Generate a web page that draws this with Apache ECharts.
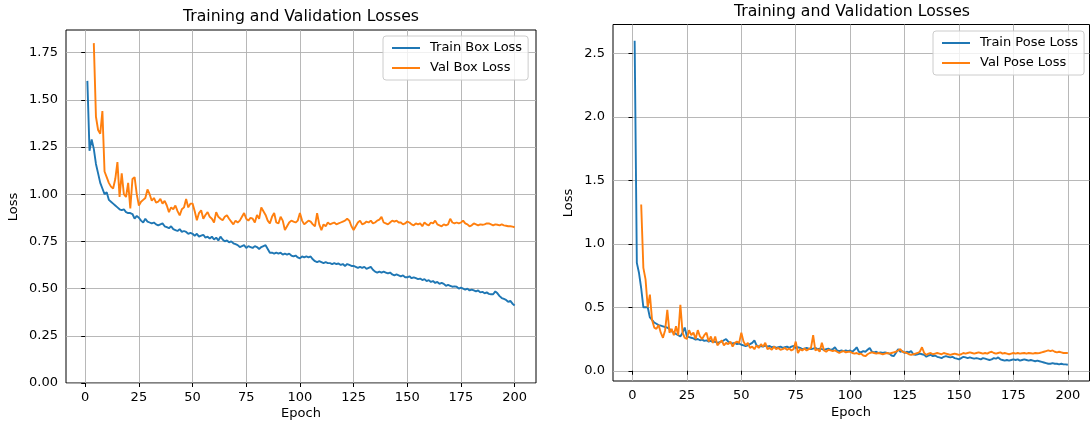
<!DOCTYPE html>
<html>
<head>
<meta charset="utf-8">
<script src="https://cdn.jsdelivr.net/npm/echarts@6/dist/echarts.min.js"></script>
<style>
  html, body { margin: 0; padding: 0; background: #ffffff; }
  #chart { width: 1090px; height: 425px; }
</style>
</head>
<body>
<div id="chart"></div>
<script>
// Per-epoch losses (epochs 1..200); validation starts at epoch 4.
const trainBoxLoss = [
  1.60,1.23,1.29,1.24,1.16,1.11,1.06,1.03,1.00,1.01,
  0.97,0.96,0.95,0.94,0.93,0.92,0.915,0.92,0.905,0.90,
  0.90,0.895,0.87,0.885,0.875,0.86,0.85,0.87,0.855,0.85,
  0.845,0.85,0.84,0.835,0.84,0.845,0.83,0.825,0.82,0.83,
  0.815,0.81,0.805,0.815,0.80,0.805,0.80,0.79,0.795,0.79,
  0.78,0.79,0.775,0.78,0.785,0.77,0.775,0.765,0.775,0.76,
  0.77,0.755,0.775,0.76,0.75,0.755,0.745,0.75,0.74,0.735,
  0.73,0.72,0.725,0.73,0.715,0.725,0.72,0.715,0.725,0.72,
  0.71,0.72,0.725,0.73,0.71,0.69,0.69,0.685,0.69,0.685,
  0.69,0.68,0.685,0.68,0.685,0.675,0.67,0.675,0.665,0.66,
  0.67,0.665,0.67,0.665,0.67,0.655,0.645,0.64,0.645,0.64,
  0.635,0.64,0.635,0.635,0.63,0.635,0.63,0.633,0.625,0.63,
  0.62,0.63,0.625,0.62,0.62,0.615,0.61,0.615,0.61,0.615,
  0.605,0.61,0.615,0.60,0.59,0.585,0.59,0.585,0.59,0.585,
  0.58,0.585,0.575,0.57,0.575,0.57,0.565,0.57,0.56,0.56,
  0.565,0.555,0.56,0.555,0.55,0.553,0.545,0.55,0.54,0.545,
  0.535,0.54,0.53,0.535,0.525,0.53,0.525,0.515,0.52,0.515,
  0.51,0.512,0.51,0.50,0.505,0.50,0.495,0.50,0.49,0.495,
  0.49,0.485,0.49,0.48,0.483,0.475,0.48,0.472,0.47,0.47,
  0.485,0.475,0.46,0.45,0.445,0.44,0.43,0.435,0.42,0.41
];
const valBoxLoss = [
  null,null,null,1.80,1.41,1.34,1.32,1.44,1.12,1.09,
  1.06,1.04,1.03,1.08,1.17,0.985,1.11,1.00,0.985,1.06,
  0.925,1.08,1.09,1.00,0.94,0.96,0.97,0.98,1.025,1.00,
  0.965,0.98,0.955,0.96,0.975,0.95,0.965,0.94,0.905,0.93,
  0.92,0.94,0.91,0.888,0.92,0.93,0.975,0.93,0.95,0.95,
  0.91,0.862,0.90,0.915,0.87,0.89,0.905,0.88,0.87,0.85,
  0.905,0.88,0.87,0.862,0.88,0.888,0.87,0.855,0.84,0.86,
  0.85,0.86,0.88,0.90,0.87,0.86,0.875,0.87,0.85,0.89,
  0.87,0.93,0.91,0.89,0.86,0.845,0.88,0.90,0.85,0.845,
  0.88,0.86,0.81,0.83,0.85,0.86,0.855,0.85,0.86,0.90,
  0.86,0.84,0.85,0.86,0.855,0.84,0.83,0.90,0.84,0.81,
  0.84,0.83,0.85,0.84,0.845,0.85,0.84,0.845,0.85,0.855,
  0.86,0.87,0.86,0.83,0.81,0.83,0.85,0.86,0.84,0.845,
  0.855,0.85,0.86,0.845,0.85,0.86,0.865,0.88,0.85,0.845,
  0.84,0.85,0.86,0.855,0.86,0.85,0.85,0.84,0.845,0.855,
  0.85,0.84,0.835,0.845,0.84,0.845,0.83,0.85,0.84,0.835,
  0.85,0.845,0.86,0.84,0.835,0.83,0.84,0.835,0.84,0.87,
  0.85,0.845,0.85,0.845,0.85,0.86,0.845,0.84,0.83,0.835,
  0.845,0.84,0.835,0.84,0.838,0.84,0.845,0.845,0.84,0.835,
  0.84,0.838,0.835,0.84,0.835,0.833,0.83,0.83,0.828,0.825
];
const trainPoseLoss = [
  2.60,0.85,0.77,0.65,0.50,0.50,0.50,0.42,0.40,0.38,
  0.37,0.36,0.355,0.35,0.345,0.34,0.33,0.31,0.30,0.29,
  0.28,0.27,0.30,0.34,0.27,0.265,0.26,0.255,0.245,0.25,
  0.24,0.245,0.235,0.24,0.23,0.235,0.225,0.23,0.22,0.225,
  0.23,0.24,0.25,0.23,0.22,0.215,0.22,0.21,0.215,0.205,
  0.20,0.195,0.20,0.21,0.22,0.24,0.20,0.19,0.195,0.19,
  0.20,0.19,0.195,0.185,0.19,0.18,0.185,0.19,0.18,0.185,
  0.19,0.18,0.19,0.195,0.18,0.185,0.18,0.17,0.175,0.18,
  0.175,0.17,0.175,0.18,0.17,0.175,0.17,0.165,0.17,0.175,
  0.165,0.17,0.185,0.16,0.155,0.16,0.155,0.16,0.155,0.16,
  0.15,0.165,0.185,0.15,0.145,0.155,0.15,0.165,0.18,0.15,
  0.145,0.15,0.14,0.145,0.14,0.145,0.14,0.135,0.12,0.115,
  0.14,0.17,0.15,0.155,0.14,0.15,0.145,0.155,0.13,0.125,
  0.13,0.135,0.13,0.125,0.11,0.12,0.125,0.115,0.12,0.11,
  0.105,0.10,0.11,0.115,0.11,0.105,0.11,0.10,0.095,0.09,
  0.10,0.11,0.105,0.10,0.105,0.10,0.095,0.10,0.095,0.09,
  0.10,0.095,0.09,0.085,0.09,0.10,0.095,0.105,0.09,0.085,
  0.08,0.085,0.08,0.085,0.09,0.085,0.09,0.08,0.085,0.09,
  0.085,0.08,0.085,0.08,0.075,0.08,0.075,0.07,0.065,0.06,
  0.055,0.055,0.06,0.055,0.055,0.05,0.055,0.05,0.05,0.047
];
const valPoseLoss = [
  null,null,null,1.31,0.81,0.72,0.50,0.60,0.40,0.34,
  0.33,0.36,0.30,0.26,0.32,0.48,0.30,0.33,0.28,0.35,
  0.28,0.52,0.30,0.26,0.25,0.32,0.28,0.30,0.25,0.32,
  0.27,0.25,0.28,0.30,0.23,0.27,0.22,0.27,0.20,0.22,
  0.24,0.20,0.22,0.21,0.23,0.19,0.22,0.23,0.22,0.30,
  0.23,0.20,0.22,0.18,0.19,0.17,0.20,0.18,0.21,0.19,
  0.22,0.17,0.18,0.165,0.19,0.17,0.18,0.165,0.17,0.18,
  0.165,0.175,0.16,0.17,0.23,0.14,0.17,0.16,0.175,0.16,
  0.17,0.18,0.28,0.16,0.17,0.15,0.22,0.16,0.15,0.165,
  0.16,0.155,0.16,0.15,0.14,0.15,0.155,0.145,0.15,0.15,
  0.14,0.135,0.14,0.13,0.135,0.12,0.115,0.13,0.14,0.145,
  0.14,0.135,0.14,0.135,0.13,0.135,0.14,0.135,0.14,0.145,
  0.15,0.16,0.17,0.15,0.145,0.14,0.13,0.125,0.13,0.135,
  0.14,0.15,0.185,0.14,0.125,0.135,0.14,0.13,0.135,0.14,
  0.135,0.13,0.14,0.135,0.13,0.125,0.13,0.135,0.13,0.125,
  0.13,0.14,0.135,0.14,0.145,0.14,0.135,0.14,0.145,0.14,
  0.135,0.14,0.135,0.145,0.15,0.14,0.135,0.14,0.145,0.135,
  0.14,0.135,0.13,0.135,0.14,0.135,0.14,0.135,0.138,0.14,
  0.135,0.14,0.138,0.135,0.14,0.138,0.14,0.145,0.15,0.155,
  0.16,0.155,0.16,0.15,0.145,0.15,0.145,0.14,0.14,0.14
];

const epochTicks = [0, 25, 50, 75, 100, 125, 150, 175, 200];
const boxLossTicks = [0, 0.25, 0.5, 0.75, 1.0, 1.25, 1.5, 1.75];
const poseLossTicks = [0, 0.5, 1.0, 1.5, 2.0, 2.5];

const titleText = 'Training and Validation Losses';
const xLabelText = 'Epoch';
const yLabelText = 'Loss';
const seriesNames = ['Train Box Loss', 'Val Box Loss', 'Train Pose Loss', 'Val Pose Loss'];

const BLUE = '#1f77b4';
const ORANGE = '#ff7f0e';
const FONT = '"DejaVu Sans", "Liberation Sans", sans-serif';
const TICK_FS = 13;
const TITLE_FS = 15.7;

// [epoch, value] pairs, skipping epochs with no value
function toPairs(values) {
  const out = [];
  values.forEach((v, i) => { if (v !== null) out.push([i + 1, v]); });
  return out;
}

// data limits padded by 5% like an autoscaled axis
function paddedRange(arrays) {
  let lo = Infinity, hi = -Infinity;
  arrays.forEach(a => a.forEach(v => {
    if (v !== null) { lo = Math.min(lo, v); hi = Math.max(hi, v); }
  }));
  const pad = 0.05 * (hi - lo);
  return [lo - pad, hi + pad];
}

const nEpochs = trainBoxLoss.length;
const xPad = 0.05 * (nEpochs - 1);
const xMin = 1 - xPad, xMax = nEpochs + xPad;

const boxRange = paddedRange([trainBoxLoss, valBoxLoss]);
const poseRange = paddedRange([trainPoseLoss, valPoseLoss]);

const grids = [
  { left: 66, top: 30, width: 470, height: 353 },
  { left: 613, top: 24.5, width: 476.5, height: 356.5 }
];

function xAxisFor(gridIndex) {
  return {
    type: 'value', gridIndex, min: xMin, max: xMax,
    axisLine: { show: false },
    axisTick: { show: true, length: 4, lineStyle: { color: '#000', width: 1 }, customValues: epochTicks },
    axisLabel: { show: true, margin: 8, color: '#000', fontSize: TICK_FS, fontFamily: FONT,
                 customValues: epochTicks, formatter: v => String(v) },
    splitLine: { show: true, lineStyle: { color: '#b0b0b0', width: 0.9 } }
  };
}

function yAxisFor(gridIndex, min, max, ticks, digits) {
  return {
    type: 'value', gridIndex, min, max,
    axisLine: { show: false },
    axisTick: { show: true, length: 4, lineStyle: { color: '#000', width: 1 }, customValues: ticks },
    axisLabel: { show: true, margin: 8, color: '#000', fontSize: TICK_FS, fontFamily: FONT,
                 customValues: ticks, formatter: v => Number(v).toFixed(digits) },
    splitLine: { show: true, lineStyle: { color: '#b0b0b0', width: 0.9 } }
  };
}

function lineSeries(name, values, color, axisIndex) {
  return {
    name, type: 'line', xAxisIndex: axisIndex, yAxisIndex: axisIndex,
    data: toPairs(values), showSymbol: false, symbol: 'none',
    lineStyle: { color, width: 1.9 }, itemStyle: { color },
    emphasis: { disabled: true }, clip: true, z: 3
  };
}

function legendAt(left, top, names) {
  return {
    data: names, orient: 'vertical', left, top,
    icon: 'rect', itemWidth: 28, itemHeight: 2, itemGap: 5,
    padding: [4.5, 6, 4.5, 9],
    borderColor: '#cccccc', borderWidth: 1, borderRadius: 3,
    backgroundColor: 'rgba(255,255,255,0.8)',
    textStyle: { color: '#000', fontSize: TICK_FS, fontFamily: FONT, lineHeight: 15, padding: [0, 0, 0, 5] },
    selectedMode: false, z: 5
  };
}

function textAt(x, y, text, size, rotation) {
  return {
    type: 'text', x, y, rotation: rotation || 0, z: 10,
    style: { text, fill: '#000', fontSize: size, fontFamily: FONT, align: 'center', verticalAlign: 'middle' }
  };
}

const chart = echarts.init(document.getElementById('chart'), null, { renderer: 'canvas' });
chart.setOption({
  animation: false,
  backgroundColor: '#ffffff',
  grid: grids.map(g => Object.assign({ show: true, borderColor: '#000', borderWidth: 1, backgroundColor: 'transparent' }, g)),
  xAxis: [xAxisFor(0), xAxisFor(1)],
  yAxis: [
    yAxisFor(0, 0, boxRange[1], boxLossTicks, 2),
    yAxisFor(1, poseRange[0], poseRange[1], poseLossTicks, 1)
  ],
  legend: [
    legendAt(383, 36, [seriesNames[0], seriesNames[1]]),
    legendAt(933, 31, [seriesNames[2], seriesNames[3]])
  ],
  series: [
    lineSeries(seriesNames[0], trainBoxLoss, BLUE, 0),
    lineSeries(seriesNames[1], valBoxLoss, ORANGE, 0),
    lineSeries(seriesNames[2], trainPoseLoss, BLUE, 1),
    lineSeries(seriesNames[3], valPoseLoss, ORANGE, 1)
  ],
  graphic: [
    textAt(301, 17, titleText, TITLE_FS),
    textAt(852, 11.5, titleText, TITLE_FS),
    textAt(301, 414, xLabelText, TICK_FS),
    textAt(851, 413, xLabelText, TICK_FS),
    textAt(14, 207, yLabelText, TICK_FS, Math.PI / 2),
    textAt(569, 203, yLabelText, TICK_FS, Math.PI / 2)
  ]
});
</script>
</body>
</html>
